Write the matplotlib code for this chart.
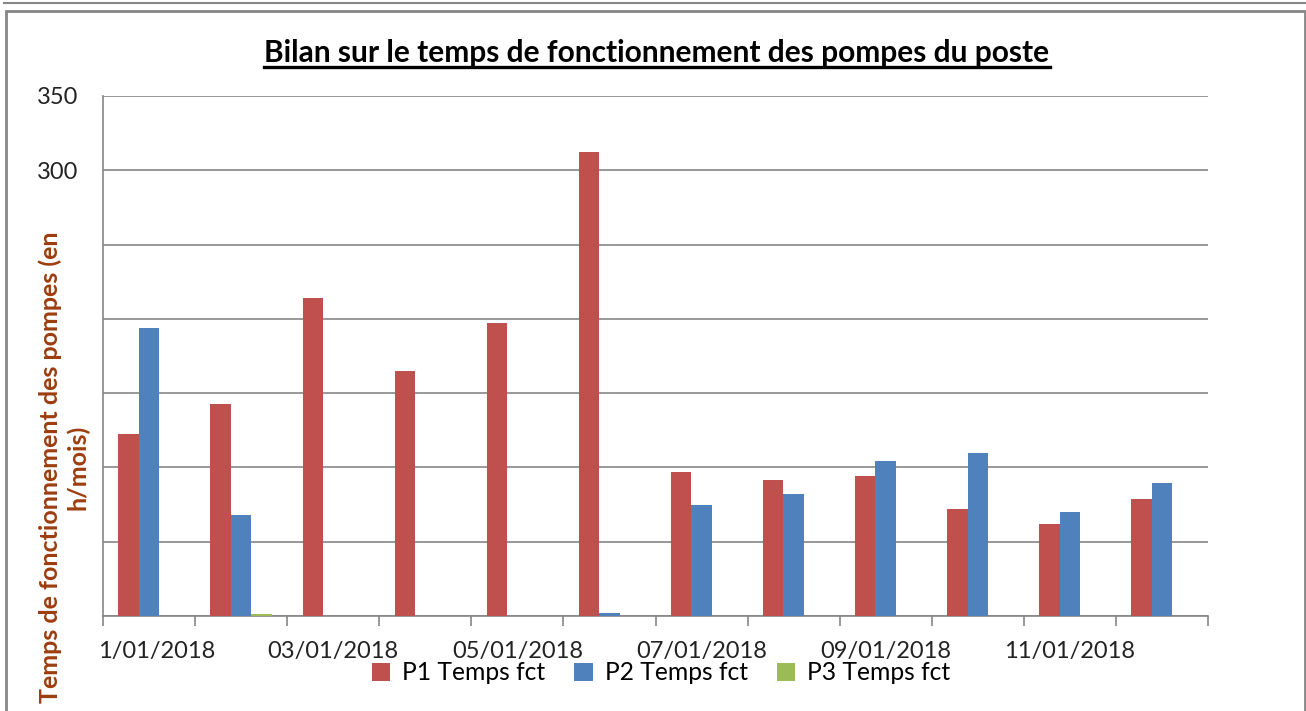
import numpy as np
import matplotlib.pyplot as plt
from matplotlib.lines import Line2D
from matplotlib.patches import Rectangle
import matplotlib.transforms as mtransforms

plt.rcParams['font.family'] = ['Lato', 'DejaVu Sans']

# Données (heures de fonctionnement par mois)
mois = ['01/01/2018', '02/01/2018', '03/01/2018', '04/01/2018', '05/01/2018', '06/01/2018',
        '07/01/2018', '08/01/2018', '09/01/2018', '10/01/2018', '11/01/2018', '12/01/2018']
p1_temps = [122.5, 143, 214, 165, 197, 312, 97, 91.5, 94, 72, 62, 79]
p2_temps = [194, 68, 0, 0, 0, 2, 75, 82, 104.5, 110, 70, 89.5]
p3_temps = [0, 1.5, 0, 0, 0, 0, 0, 0, 0, 0, 0, 0]
series = ['P1 Temps fct', 'P2 Temps fct', 'P3 Temps fct']
couleurs = ['#C0504D', '#4F81BD', '#9BBB59']
gris = '#868686'

fig = plt.figure(figsize=(13.06, 7.11), dpi=100)
ax = fig.add_axes([103 / 1306, 1 - 616 / 711, (1208 - 103) / 1306, (616 - 96) / 711])

x = np.arange(len(mois))
w = 0.222
for i, (vals, nom, c) in enumerate(zip([p1_temps, p2_temps, p3_temps], series, couleurs)):
    ax.bar(x + (i - 1) * w, vals, width=w, color=c, label=nom, zorder=3)

ax.set_xlim(-0.5, len(mois) - 0.5)
ax.set_ylim(0, 350)

# Grille horizontale
ax.set_yticks(np.arange(0, 351, 50))
ax.set_yticklabels(['' if v < 300 else str(v) for v in range(0, 351, 50)])
ax.grid(axis='y', color=gris, linewidth=1.2, zorder=0)
ax.tick_params(axis='y', length=0, pad=18, labelsize=17, labelcolor='#222222')

# Axe X : étiquettes une sur deux, graduations entre les groupes
etiquettes = [m if i % 2 == 0 else '' for i, m in enumerate(mois)]
etiquettes[0] = '1/01/2018'
ax.set_xticks(x)
ax.set_xticklabels(etiquettes)
ax.set_xticks(np.arange(-0.5, len(mois), 1), minor=True)
ax.tick_params(axis='x', which='major', length=0, pad=18, labelsize=17, labelcolor='#222222')
ax.tick_params(axis='x', which='minor', length=7, width=1.2, color=gris)
lab0 = ax.get_xticklabels()[0]
lab0.set_transform(lab0.get_transform() + mtransforms.ScaledTranslation(8 / 100, 0, fig.dpi_scale_trans))

for s in ['top', 'right']:
    ax.spines[s].set_visible(False)
for s in ['left', 'bottom']:
    ax.spines[s].set_color(gris)
    ax.spines[s].set_linewidth(1.2)

# Titre souligné
titre = fig.text(657 / 1306, 1 - 53 / 711, 'Bilan sur le temps de fonctionnement des pompes du poste',
                 ha='center', va='center', fontsize=21.5, fontweight='bold')
fig.canvas.draw()
bb = titre.get_window_extent().transformed(fig.transFigure.inverted())
fig.add_artist(Line2D([bb.x0, bb.x1], [1 - 67 / 711] * 2, color='black', linewidth=2.4,
                      transform=fig.transFigure))

# Titre de l'axe Y
fig.text(64 / 1306, 1 - 467 / 711, 'Temps de fonctionnement des pompes (en\nh/mois)',
         rotation=90, ha='center', va='center', multialignment='center',
         fontsize=18, fontweight='bold', color='#9C3D0C', linespacing=1.25)

# Légende
fig.legend(loc='center', bbox_to_anchor=(661 / 1306, 1 - 673 / 711), ncol=3, frameon=False,
           fontsize=17.7, handlelength=0.75, handleheight=0.75, handletextpad=0.5, columnspacing=1.17)

# Cadres
fig.add_artist(Rectangle((6 / 1306, -0.05), 1299 / 1306, 1.05 - 11 / 711, transform=fig.transFigure,
                         fill=False, edgecolor=gris, linewidth=2))
fig.add_artist(Line2D([4 / 1306, 1], [1 - 3 / 711] * 2, color=gris, linewidth=1.5,
                      transform=fig.transFigure))

fig.savefig('out.png', dpi=100)
